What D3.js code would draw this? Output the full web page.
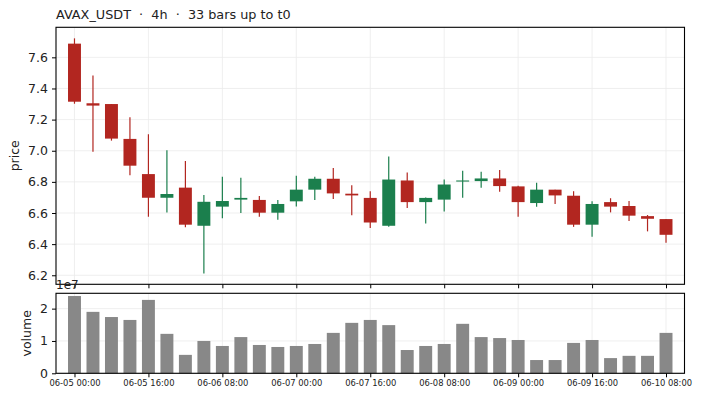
<!DOCTYPE html>
<html>
<head>
<meta charset="utf-8">
<script src="https://cdn.jsdelivr.net/npm/d3@7"></script>
<style>
  body { margin: 0; background: #fff; }
  svg text { font-family: "DejaVu Sans", sans-serif; fill: #222; }
</style>
</head>
<body>
<div id="chart"></div>
<script>
// candle data, 4h bars starting 06-05 00:00
const opens  = [7.688, 7.305, 7.300, 7.076, 6.850, 6.698, 6.763, 6.518, 6.641, 6.686, 6.684,
                6.602, 6.675, 6.750, 6.820, 6.724, 6.697, 6.518, 6.809, 6.670, 6.686, 6.802,
                6.805, 6.822, 6.771, 6.664, 6.750, 6.711, 6.525, 6.670, 6.645, 6.580, 6.561];
const closes = [7.315, 7.290, 7.078, 6.904, 6.698, 6.722, 6.525, 6.672, 6.677, 6.697, 6.602,
                6.658, 6.750, 6.820, 6.726, 6.713, 6.539, 6.815, 6.670, 6.697, 6.783, 6.809,
                6.822, 6.773, 6.670, 6.750, 6.713, 6.525, 6.658, 6.641, 6.583, 6.563, 6.460];
const highs  = [7.722, 7.484, 7.300, 7.215, 7.106, 7.003, 6.934, 6.716, 6.833, 6.826, 6.710,
                6.684, 6.840, 6.833, 6.889, 6.778, 6.740, 6.963, 6.861, 6.700, 6.816, 6.871,
                6.865, 6.877, 6.775, 6.795, 6.750, 6.740, 6.675, 6.695, 6.677, 6.587, 6.561];
const lows   = [7.302, 6.994, 7.065, 6.842, 6.576, 6.604, 6.508, 6.212, 6.566, 6.600, 6.576,
                6.556, 6.641, 6.684, 6.690, 6.585, 6.503, 6.511, 6.632, 6.533, 6.610, 6.698,
                6.762, 6.737, 6.576, 6.640, 6.658, 6.511, 6.448, 6.604, 6.548, 6.482, 6.409];
const volumes = [2.39, 1.90, 1.74, 1.65, 2.27, 1.22, 0.57, 1.00, 0.845, 1.12, 0.876,
                 0.814, 0.845, 0.907, 1.25, 1.56, 1.65, 1.49, 0.72, 0.845, 0.907, 1.53,
                 1.12, 1.09, 1.03, 0.41, 0.41, 0.94, 1.03, 0.47, 0.54, 0.54, 1.25].map(v => v * 1e7);

const tickIdx = [0, 4, 8, 12, 16, 20, 24, 28, 32];
const tickLabels = ["06-05 00:00", "06-05 16:00", "06-06 08:00", "06-07 00:00", "06-07 16:00",
                    "06-08 08:00", "06-09 00:00", "06-09 16:00", "06-10 08:00"];
const priceTicks = [6.2, 6.4, 6.6, 6.8, 7.0, 7.2, 7.4, 7.6];
const volTicks = [0, 1e7, 2e7];

const W = 702, H = 400;
const left = 56, right = 684.5;
const pTop = 27.3, pBot = 284.3, vTop = 293.3, vBot = 373.3;
const up = "#1b7f4d", down = "#b22620", gridCol = "#ebebeb";

const svg = d3.select("#chart").append("svg").attr("width", W).attr("height", H);

const x = d3.scaleLinear().domain([-1, 33]).range([left, right]);
const yP = d3.scaleLinear().domain([6.142, 7.793]).range([pBot, pTop]);
const yV = d3.scaleLinear().domain([0, 2.474e7]).range([vBot, vTop]);
const bw = (x(1) - x(0)) * 0.7;

function grid(g, yScale, yTicks, top, bot) {
  g.selectAll(".gx").data(tickIdx).enter().append("line")
    .attr("x1", d => x(d)).attr("x2", d => x(d)).attr("y1", top).attr("y2", bot)
    .attr("stroke", gridCol).attr("stroke-width", 0.8);
  g.selectAll(".gy").data(yTicks).enter().append("line")
    .attr("x1", left).attr("x2", right).attr("y1", d => yScale(d)).attr("y2", d => yScale(d))
    .attr("stroke", gridCol).attr("stroke-width", 0.8);
}

// price panel
const gp = svg.append("g");
grid(gp, yP, priceTicks, pTop, pBot);

const idx = d3.range(opens.length);
gp.selectAll(".wick").data(idx).enter().append("line")
  .attr("x1", i => x(i)).attr("x2", i => x(i))
  .attr("y1", i => yP(highs[i])).attr("y2", i => yP(lows[i]))
  .attr("stroke", i => closes[i] >= opens[i] ? up : down).attr("stroke-width", 1.2);
gp.selectAll(".body").data(idx).enter().append("rect")
  .attr("x", i => x(i) - bw / 2).attr("width", bw)
  .attr("y", i => yP(Math.max(opens[i], closes[i])))
  .attr("height", i => Math.max(1, Math.abs(yP(opens[i]) - yP(closes[i]))))
  .attr("fill", i => closes[i] >= opens[i] ? up : down);

// volume panel
const gv = svg.append("g");
grid(gv, yV, volTicks, vTop, vBot);
gv.selectAll(".vol").data(idx).enter().append("rect")
  .attr("x", i => x(i) - bw / 2).attr("width", bw)
  .attr("y", i => yV(volumes[i])).attr("height", i => yV(0) - yV(volumes[i]))
  .attr("fill", "#888888");

// axes
function frame(top, bot) {
  svg.append("rect").attr("x", left).attr("y", top).attr("width", right - left).attr("height", bot - top)
    .attr("fill", "none").attr("stroke", "#000").attr("stroke-width", 1.1);
}
frame(pTop, pBot);
frame(vTop, vBot);

const axP = svg.append("g").attr("transform", `translate(${left},0)`)
  .call(d3.axisLeft(yP).tickValues(priceTicks).tickFormat(d3.format(".1f")).tickSize(4).tickPadding(4));
const axPx = svg.append("g").attr("transform", `translate(0,${pBot})`)
  .call(d3.axisBottom(x).tickValues(tickIdx).tickFormat("").tickSize(4));
const axV = svg.append("g").attr("transform", `translate(${left},0)`)
  .call(d3.axisLeft(yV).tickValues(volTicks).tickFormat(d => d / 1e7).tickSize(4).tickPadding(4));
const axVx = svg.append("g").attr("transform", `translate(0,${vBot})`)
  .call(d3.axisBottom(x).tickValues(tickIdx).tickFormat((d, i) => tickLabels[i]).tickSize(4).tickPadding(3));

[axP, axPx, axV, axVx].forEach(a => {
  a.select(".domain").remove();
  a.selectAll(".tick line").attr("stroke", "#000").attr("stroke-width", 1);
});
axP.selectAll("text").style("font-size", "12.5px");
axV.selectAll("text").style("font-size", "12.5px");
axVx.selectAll("text").style("font-size", "8.4px");

// labels
svg.append("text").attr("x", 56).attr("y", 19).style("font-size", "12.8px")
  .style("white-space", "pre").attr("xml:space", "preserve")
  .text("AVAX_USDT  ·  4h  ·  33 bars up to t0");
svg.append("text").attr("transform", `translate(19,${(pTop + pBot) / 2}) rotate(-90)`)
  .attr("text-anchor", "middle").style("font-size", "12.5px").text("price");
svg.append("text").attr("transform", `translate(31,${(vTop + vBot) / 2}) rotate(-90)`)
  .attr("text-anchor", "middle").style("font-size", "12.5px").text("volume");
svg.append("text").attr("x", 56).attr("y", 289).style("font-size", "12px").text("1e7");
</script>
</body>
</html>
